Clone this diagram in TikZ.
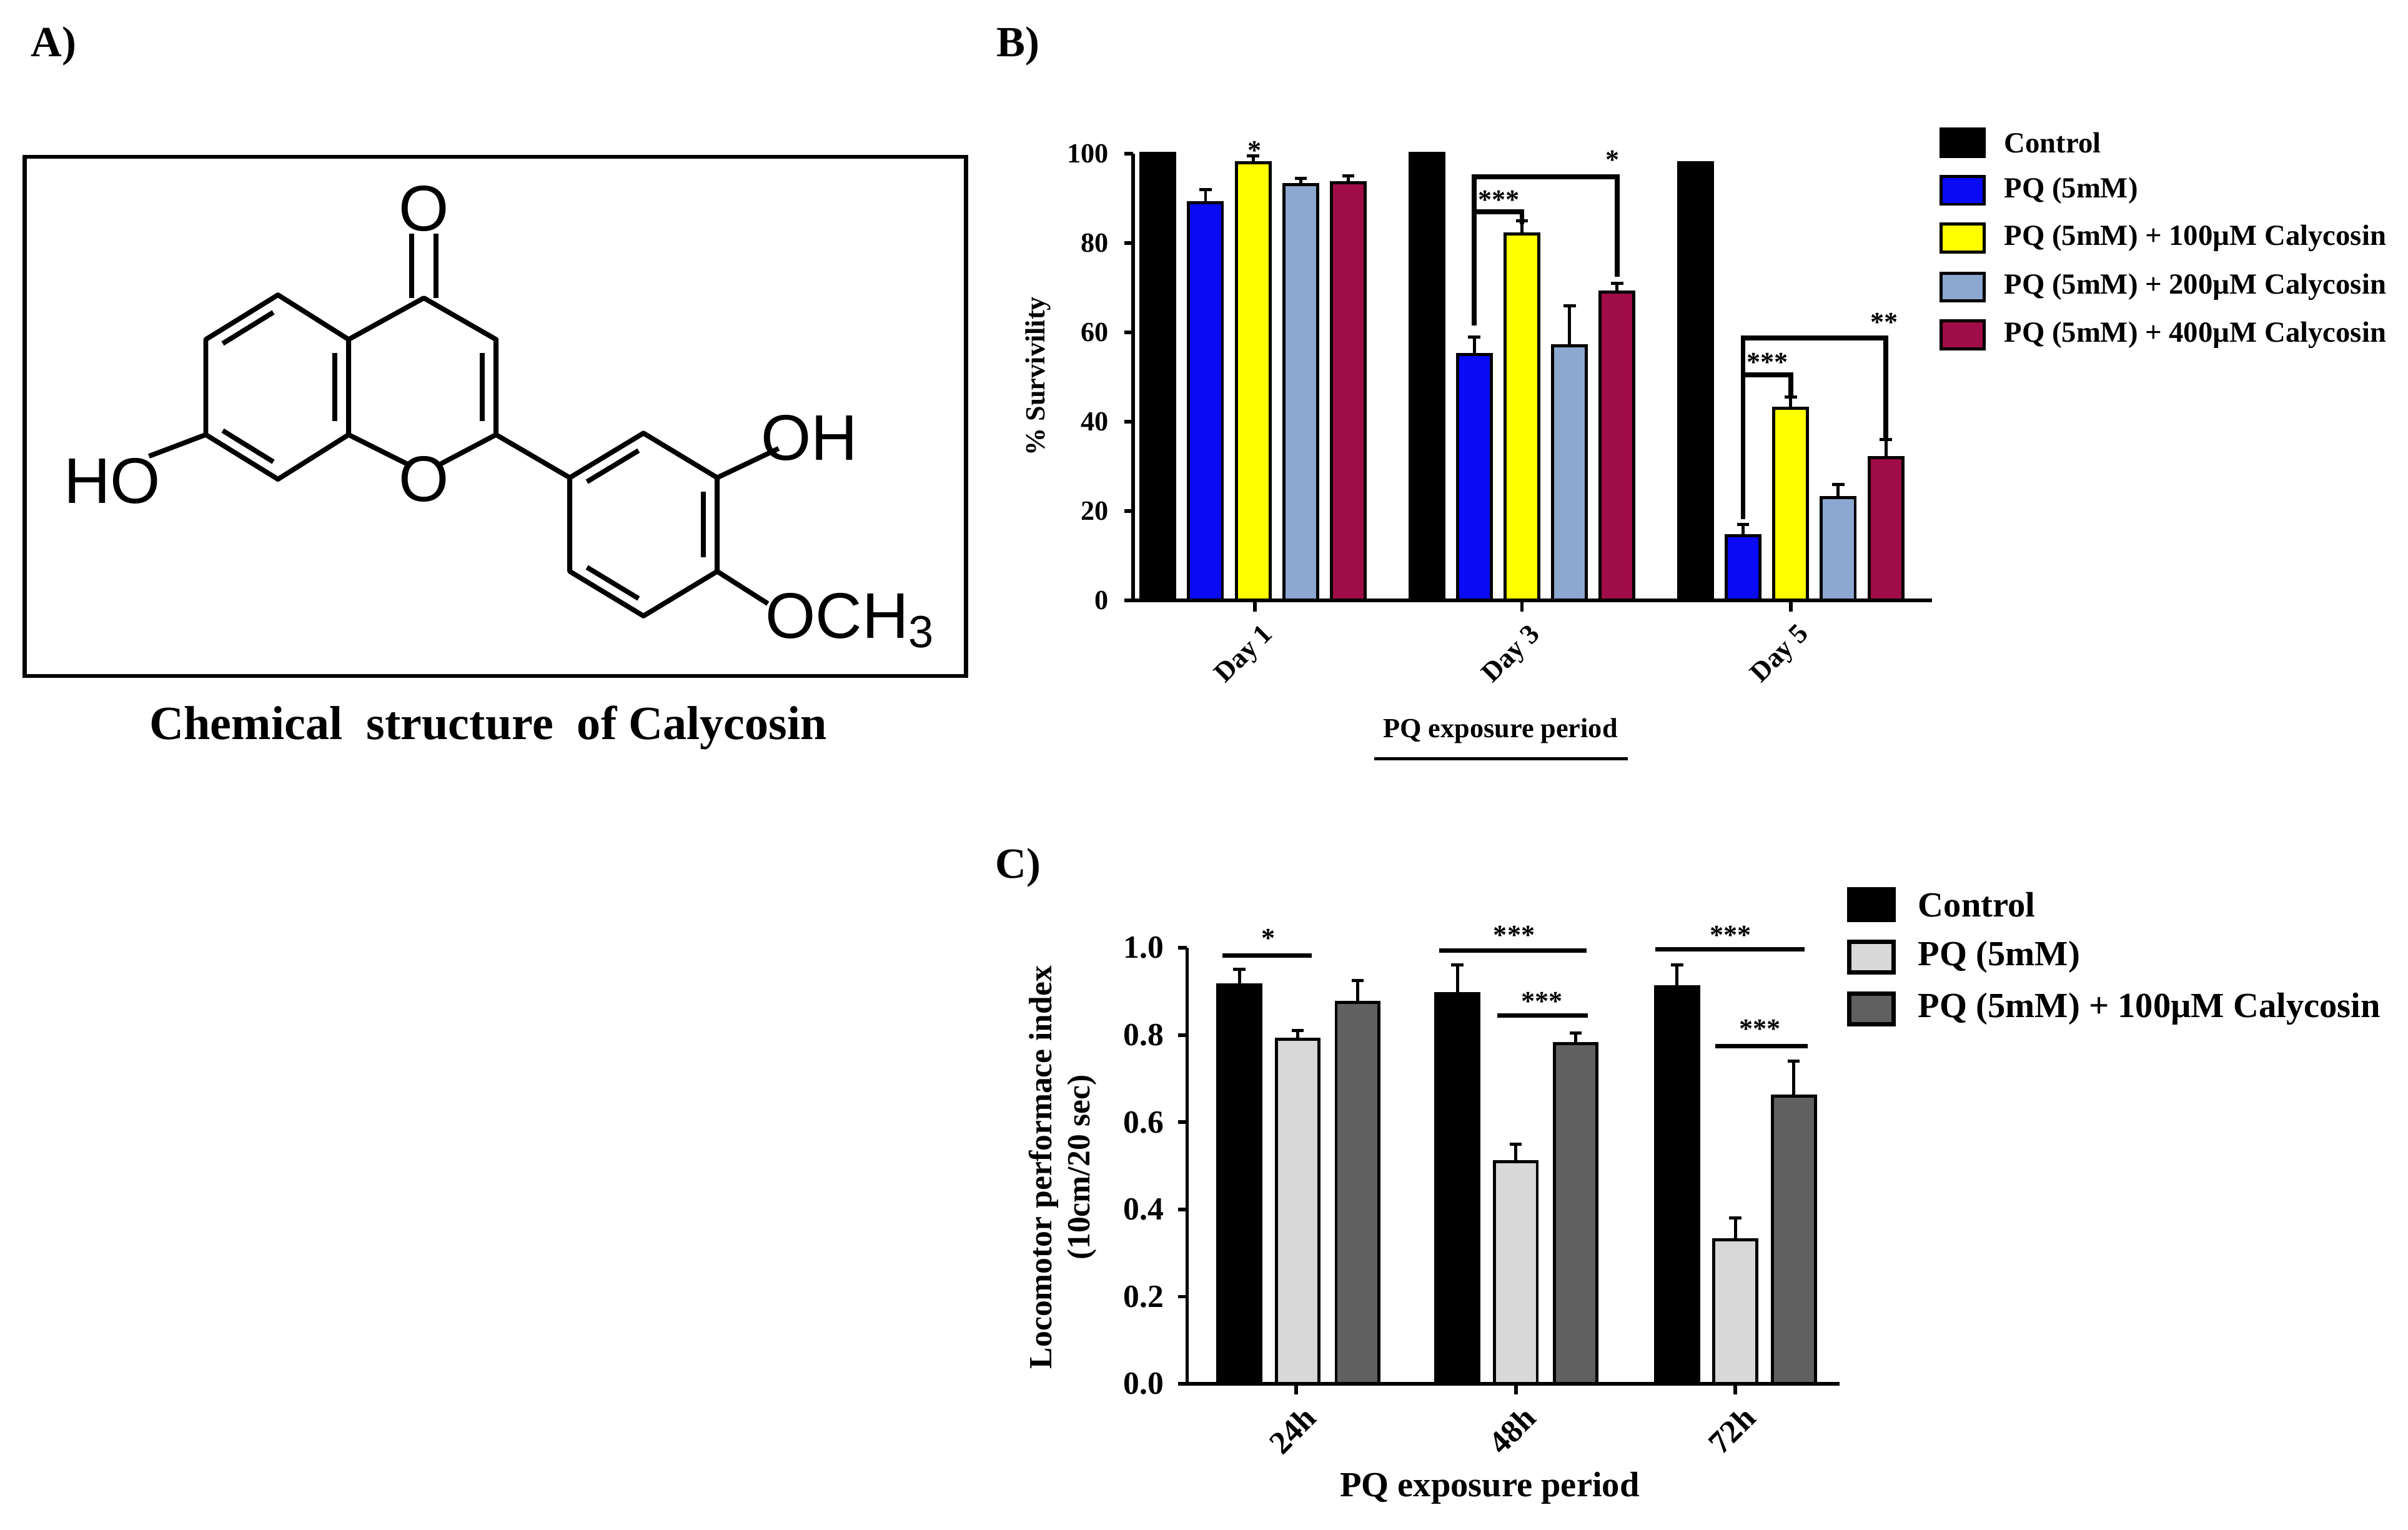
\documentclass[tikz,border=0pt]{standalone}
\usepackage{fontspec}
\usetikzlibrary{calc}
\setmainfont{Liberation Serif}
\newfontfamily\chemfont{Liberation Sans}
\definecolor{bblue}{RGB}{10,10,245}
\definecolor{byel}{RGB}{255,255,0}
\definecolor{blb}{RGB}{140,168,208}
\definecolor{bmar}{RGB}{160,12,72}
\definecolor{clg}{RGB}{216,216,216}
\definecolor{cdg}{RGB}{96,96,96}
\begin{document}
\begin{tikzpicture}[x=0.5pt,y=-0.5pt,
  bond/.style={line width=1.6pt},
  atom/.style={font=\chemfont\fontsize{21}{21}\selectfont,inner sep=0pt},
  bar/.style={draw=black,line width=1pt},
  err/.style={line width=1pt},
  axisline/.style={line width=1.2pt},
  panel/.style={font=\bfseries\fontsize{14}{14}\selectfont},
  tickB/.style={font=\bfseries\fontsize{9}{9}\selectfont},
  tickC/.style={font=\bfseries\fontsize{10.5}{10.5}\selectfont},
  legB/.style={font=\bfseries\fontsize{9.5}{9.5}\selectfont,anchor=west},
  legC/.style={font=\bfseries\fontsize{11.5}{11.5}\selectfont,anchor=west},
  star/.style={font=\bfseries\fontsize{9}{9}\selectfont}]
\useasboundingbox (0,0) rectangle (1568,996);
% panel labels
\node[panel] (lA) at (35,30) {A)};
\node[panel] (lB) at (663,30) {B)};
\node[panel] (lC) at (663,565) {C)};
% ---------- Panel A ----------
\draw[line width=1.3pt] (16,102) rectangle (629,440);
\node[font=\bfseries\fontsize{15.5}{15.5}\selectfont] (titleA) at (318,474) {Chemical\ \ structure\ \ of Calycosin};
\coordinate (C4) at (276,194); \coordinate (C3) at (323,221); \coordinate (C2) at (323,283);
\coordinate (O1) at (276,309); \coordinate (C8a) at (227,283); \coordinate (C4a) at (227,221);
\coordinate (C5) at (181,192); \coordinate (C6) at (134,221); \coordinate (C7) at (134,283);
\coordinate (C8) at (181,312);
\coordinate (D1) at (371,311); \coordinate (D2) at (419,282); \coordinate (D3) at (467,311);
\coordinate (D4) at (467,372); \coordinate (D5) at (419,401); \coordinate (D6) at (371,372);
\node[atom] (Otop) at (276,136) {O};
\node[atom] (Oring) at (276,312) {O};
\node[atom] (HO) at (73,313) {HO};
\node[atom] (OH) at (527,285) {OH};
\node[atom,anchor=west] (OMe) at (498,404) {OCH\textsubscript{3}};
\draw[bond,line join=round] (C4a)--(C5)--(C6)--(C7)--(C8)--(C8a)--(C4a)--(C4)--(C3)--(C2);
\draw[bond] (C8a)--(265,302); \draw[bond] (C2)--(287,302);
\draw[bond] (C7)--(97,297);
\draw[bond,line join=round] (C2)--(D1)--(D2)--(D3)--(D4)--(D5)--(D6)--(D1);
\draw[bond] (D3)--(507,292);
\draw[bond] (D4)--(500,393);
% double bonds
\draw[bond] (268,194)--(268,152); \draw[bond] (284,194)--(284,152);
\draw[bond] ($(C5)!0.15!(C6)+(4,7)$) -- ($(C5)!0.85!(C6)+(4,7)$);
\draw[bond] ($(C7)!0.15!(C8)+(4,-7)$) -- ($(C7)!0.85!(C8)+(4,-7)$);
\draw[bond] (218,230)--(218,274);
\draw[bond] (314,230)--(314,274);
\draw[bond] ($(D1)!0.15!(D2)+(4,7)$) -- ($(D1)!0.85!(D2)+(4,7)$);
\draw[bond] (458,320)--(458,363);
\draw[bond] ($(D5)!0.15!(D6)+(4,-7)$) -- ($(D5)!0.85!(D6)+(4,-7)$);
% ---------- Panel B ----------
\foreach \x/\v/\e/\c in {743/100/0/black,774/89/3/bblue,805/98/1.5/byel,836/93/1.5/blb,867/93.5/1.5/bmar,
  918/100/0/black,949/55/4/bblue,980/82/3/byel,1011/57/9/blb,1042/69/2/bmar,
  1093/98/0/black,1124/14.5/2.5/bblue,1155/43/2.5/byel,1186/23/3/blb,1217/32/4/bmar}{
  \draw[err] (\x+11,{391-2.91*\v}) -- (\x+11,{391-2.91*(\v+\e)}) (\x+7,{391-2.91*(\v+\e)}) -- (\x+15,{391-2.91*(\v+\e)});
  \draw[bar,fill=\c] (\x,391) rectangle (\x+22,{391-2.91*\v});
}
\draw[axisline] (738,100) -- (738,391) -- (1258,391);
\foreach \v in {0,20,40,60,80,100}{
  \draw[axisline] (732,{391-2.91*\v}) -- (738,{391-2.91*\v});
  \node[tickB,anchor=east] at (729,{391-2.91*\v}) {\v};
}
\foreach \x/\t in {817/Day 1,991/Day 3,1166/Day 5}{
  \draw[axisline] (\x,391) -- (\x,398);
  \node[tickB,rotate=45,anchor=north east,inner sep=1pt] at (\x+4,402) {\t};
}
\node[tickB,rotate=90,font=\bfseries\fontsize{9}{9}\selectfont] (ylabB) at (676,245) {\% Survivility};
\node[font=\bfseries\fontsize{9}{9}\selectfont] (xlabB) at (977,476) {PQ exposure period};
\draw[line width=1.2pt] (895,494) -- (1060,494);
% significance B
\draw[line width=1.6pt] (960,212) -- (960,115) -- (1053,115) -- (1053,180);
\draw[line width=1.6pt] (960,138) -- (991,138) -- (991,146);
\node[star] at (976,130) {***};
\node[star] at (1050,104) {*};
\node[star] at (817,98) {*};
\draw[line width=1.6pt] (1135,338) -- (1135,220) -- (1228,220) -- (1228,286);
\draw[line width=1.6pt] (1135,244) -- (1166,244) -- (1166,258);
\node[star] at (1151,236) {***};
\node[star] at (1227,210) {**};
% legend B
\foreach \y/\c/\t in {93/black/Control,124/bblue/PQ (5mM),155/byel/PQ (5mM) + 100µM Calycosin,187/blb/PQ (5mM) + 200µM Calycosin,218/bmar/PQ (5mM) + 400µM Calycosin}{
  \draw[bar,fill=\c] (1264,\y-9) rectangle (1292,\y+9);
  \node[legB] at (1298,\y) {\t};
}
% ---------- Panel C ----------
\foreach \x/\v/\e/\c in {793/0.915/0.035/black,831/0.79/0.02/clg,870/0.875/0.05/cdg,
  935/0.895/0.065/black,973/0.51/0.04/clg,1012/0.78/0.025/cdg,
  1078/0.91/0.05/black,1116/0.33/0.05/clg,1154/0.66/0.08/cdg}{
  \draw[err] (\x+14,{901-284*\v}) -- (\x+14,{901-284*(\v+\e)}) (\x+10,{901-284*(\v+\e)}) -- (\x+18,{901-284*(\v+\e)});
  \draw[bar,fill=\c] (\x,901) rectangle (\x+28,{901-284*\v});
}
\draw[axisline] (773,617) -- (773,901) -- (1198,901);
\foreach \v/\t in {0/0.0,0.2/0.2,0.4/0.4,0.6/0.6,0.8/0.8,1/1.0}{
  \draw[axisline] (767,{901-284*\v}) -- (773,{901-284*\v});
  \node[tickC,anchor=east] at (765,{901-284*\v}) {\t};
}
\foreach \x/\t in {844/24h,987/48h,1130/72h}{
  \draw[axisline] (\x,901) -- (\x,908);
  \node[tickC,rotate=45,anchor=north east,inner sep=1pt] at (\x+4,911) {\t};
}
\node[rotate=90,font=\bfseries\fontsize{10.5}{12.5}\selectfont,align=center] (ylabC) at (692,760) {Locomotor performace index\\(10cm/20 sec)};
\node[font=\bfseries\fontsize{11.5}{11.5}\selectfont] (xlabC) at (970,969) {PQ exposure period};
\draw[line width=1.4pt] (796,622) -- (854,622);
\draw[line width=1.4pt] (937,619) -- (1033,619);
\draw[line width=1.4pt] (975,661) -- (1034,661);
\draw[line width=1.4pt] (1078,618) -- (1175,618);
\draw[line width=1.4pt] (1117,681) -- (1177,681);
\node[star] at (826,611) {*};
\node[star] at (986,609) {***};
\node[star] at (1004,652) {***};
\node[star] at (1127,609) {***};
\node[star] at (1146,670) {***};
% legend C
\foreach \y/\c/\t in {589/black/Control,623/clg/PQ (5mM),657/cdg/PQ (5mM) + 100µM Calycosin}{
  \draw[bar,fill=\c,line width=1.4pt] (1204,\y-10) rectangle (1233,\y+10);
  \node[legC] at (1242,\y) {\t};
}
\end{tikzpicture}
\end{document}
